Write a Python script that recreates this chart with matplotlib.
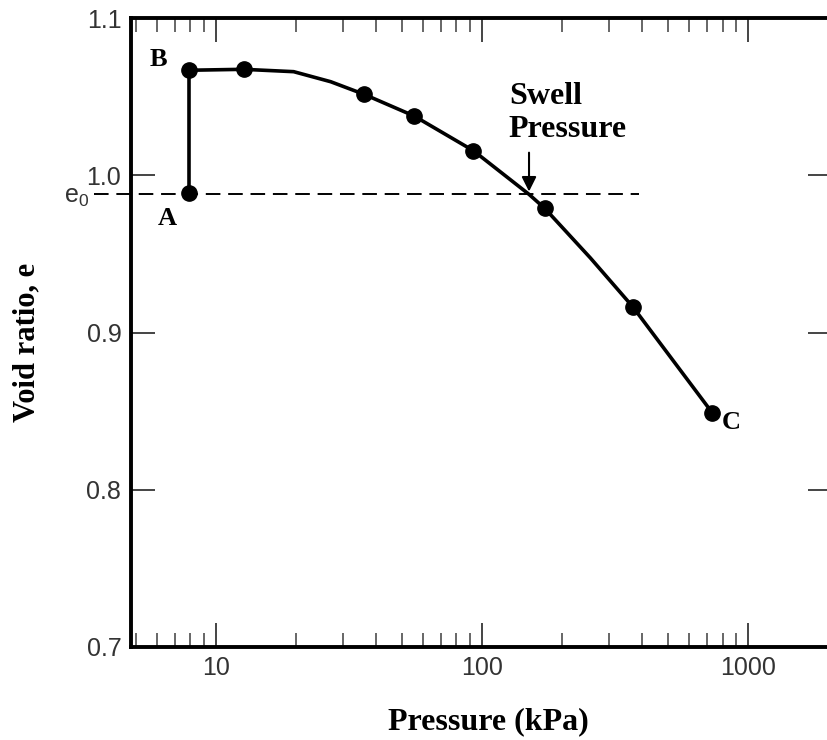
import numpy as np
import matplotlib.pyplot as plt
from matplotlib.ticker import LogLocator, NullFormatter, FixedLocator

# loading curve (pressure in kPa, void ratio)
curve_p = [7.9, 12.7, 19.6, 27, 36, 55.5, 92.7, 150, 172, 255, 368, 731]
curve_e = [1.067, 1.0676, 1.0661, 1.0597, 1.0517, 1.0379, 1.0158, 0.988, 0.979, 0.9475, 0.9164, 0.849]

# measured points (markers)
pts_p = [7.9, 7.9, 12.7, 36, 55.5, 92.7, 172, 368, 731]
pts_e = [0.9887, 1.0672, 1.0676, 1.0517, 1.0379, 1.0158, 0.979, 0.9164, 0.849]

e0 = 0.988
swell_p = 150

serif = "Liberation Serif"
sans = "Liberation Sans"

fig = plt.figure(figsize=(8.28, 7.4), dpi=100)
ax = fig.add_axes([0.1582, 0.1261, 0.8466, 0.849])
ax.set_xscale("log")
ax.set_xlim(4.8, 2060)
ax.set_ylim(0.7, 1.1)

# vertical swelling step A -> B and the loading curve
ax.plot([pts_p[0], pts_p[1]], [pts_e[0], pts_e[1]], color="black", lw=2.6)
ax.plot(curve_p, curve_e, color="black", lw=2.6, solid_joinstyle="round")
ax.plot(pts_p, pts_e, "o", color="black", ms=11)

# initial void ratio line, running out past the y axis
ax.plot([3.5, 387], [e0, e0], color="black", lw=1.4,
        linestyle=(0, (7.5, 4)), clip_on=False)
ax.text(3.35, 0.986, "$\\mathregular{e_0}$", fontsize=18, family=sans, color="#333333",
        ha="right", va="center")

# point labels
ax.text(6.06, 1.0736, "B", fontsize=19, family=serif, weight="bold", ha="center", va="center")
ax.text(6.55, 0.9723, "A", fontsize=19, family=serif, weight="bold", ha="center", va="center")
ax.text(863, 0.843, "C", fontsize=19, family=serif, weight="bold", ha="center", va="center")

ax.text(126, 1.0596, "Swell\nPressure", fontsize=23, family=serif, weight="bold",
        ha="left", va="top", linespacing=1.2)
ax.annotate("", xy=(swell_p, e0), xytext=(swell_p, 1.0163),
            arrowprops=dict(arrowstyle="-|>", color="black", lw=1.5, mutation_scale=22))

# ticks: inward on all sides
ax.xaxis.set_major_locator(FixedLocator([10, 100, 1000]))
ax.xaxis.set_minor_locator(LogLocator(base=10, subs=np.arange(2, 10)))
ax.xaxis.set_minor_formatter(NullFormatter())
ax.set_xticklabels(["10", "100", "1000"])
ax.set_yticks([0.7, 0.8, 0.9, 1.0, 1.1])
ax.set_yticklabels(["0.7", "0.8", "0.9", "1.0", "1.1"])
ax.tick_params(which="major", direction="in", length=17, width=1.4, color="#444444",
               top=True, right=True, labelsize=18, labelcolor="#333333", pad=7)
ax.tick_params(which="minor", direction="in", length=10, width=1.4, color="#666666",
               top=True, right=True)
for lab in ax.get_xticklabels() + ax.get_yticklabels():
    lab.set_family(sans)

for s in ax.spines.values():
    s.set_linewidth(2.8)

ax.set_xlabel("Pressure (kPa)", fontsize=23, family=serif, weight="bold")
ax.xaxis.set_label_coords(0.51, -0.097)
ax.set_ylabel("Void ratio, e", fontsize=22, family=serif, weight="bold")
ax.yaxis.set_label_coords(-0.128, 0.485)

fig.savefig("out.png", dpi=100)
